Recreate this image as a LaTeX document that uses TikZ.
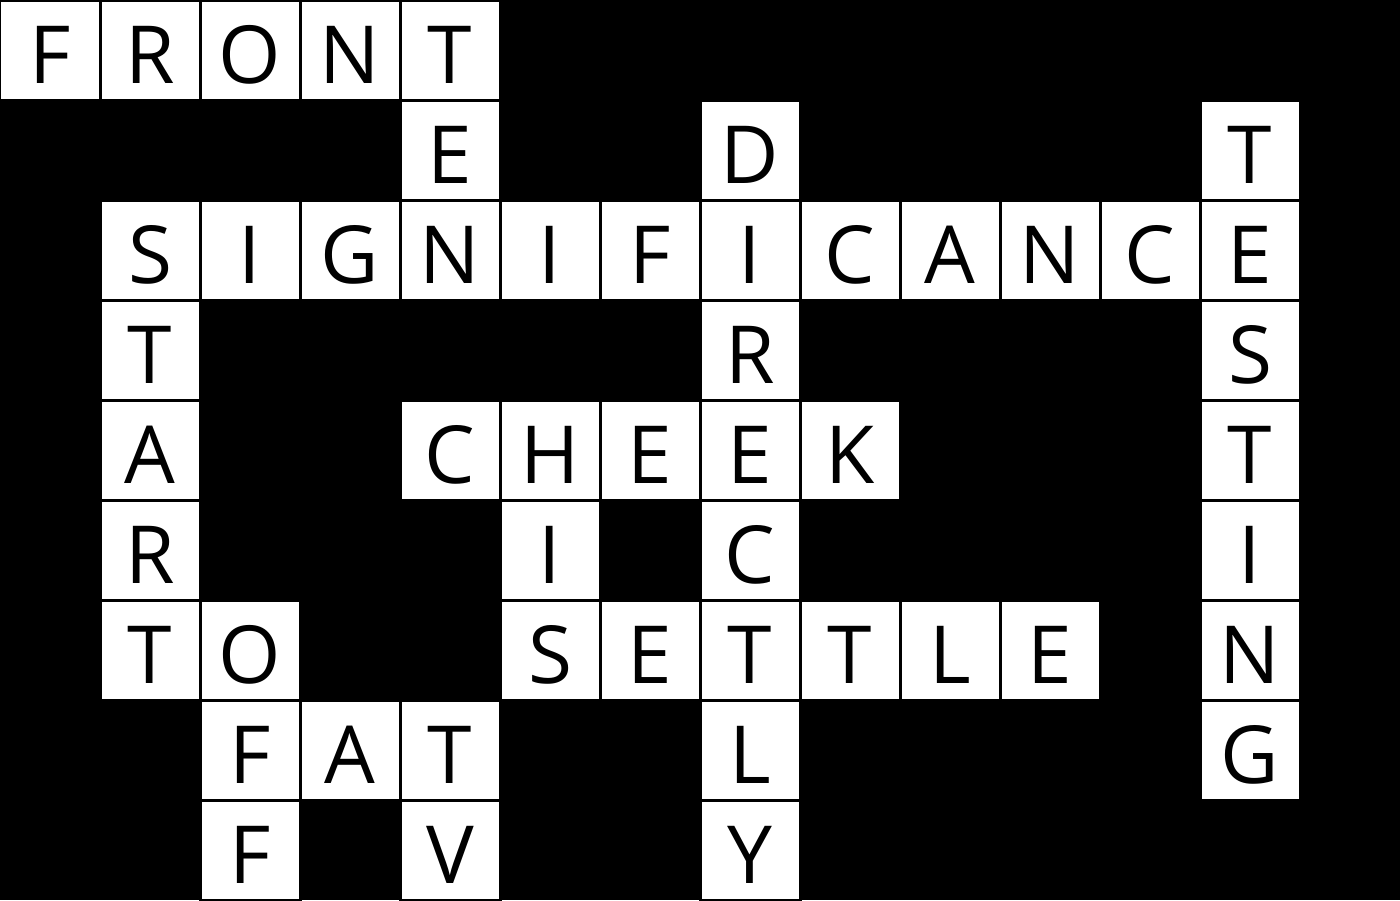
\documentclass[tikz,border=0pt]{standalone}
\usepackage{fontspec}
\setmainfont{Open Sans}
\usepackage{tikz}
\tikzstyle{cellbox} = [draw=black, fill=white, line width=0.03cm, rectangle, minimum size=1cm, inner sep=0pt, text height=0.66cm, text depth=0cm, font=\fontsize{22.8pt}{24pt}\selectfont]
\begin{document}
\begin{tikzpicture}
\fill[black] (0,0) rectangle (14,-9);
\useasboundingbox (0,0) rectangle (14,-9);
% across and down entries, col/row/letter
\foreach \c/\r/\l in {0/0/F,1/0/R,2/0/O,3/0/N,4/0/T,
    4/1/E,7/1/D,12/1/T,
    1/2/S,2/2/I,3/2/G,4/2/N,5/2/I,6/2/F,7/2/I,8/2/C,9/2/A,10/2/N,11/2/C,12/2/E,
    1/3/T,7/3/R,12/3/S,
    1/4/A,4/4/C,5/4/H,6/4/E,7/4/E,8/4/K,12/4/T,
    1/5/R,5/5/I,7/5/C,12/5/I,
    1/6/T,2/6/O,5/6/S,6/6/E,7/6/T,8/6/T,9/6/L,10/6/E,12/6/N,
    2/7/F,3/7/A,4/7/T,7/7/L,12/7/G,
    2/8/F,4/8/V,7/8/Y}
  \node[cellbox] (cell-\c-\r) at (\c+0.5,-\r-0.5) {\l};
\end{tikzpicture}
\end{document}
